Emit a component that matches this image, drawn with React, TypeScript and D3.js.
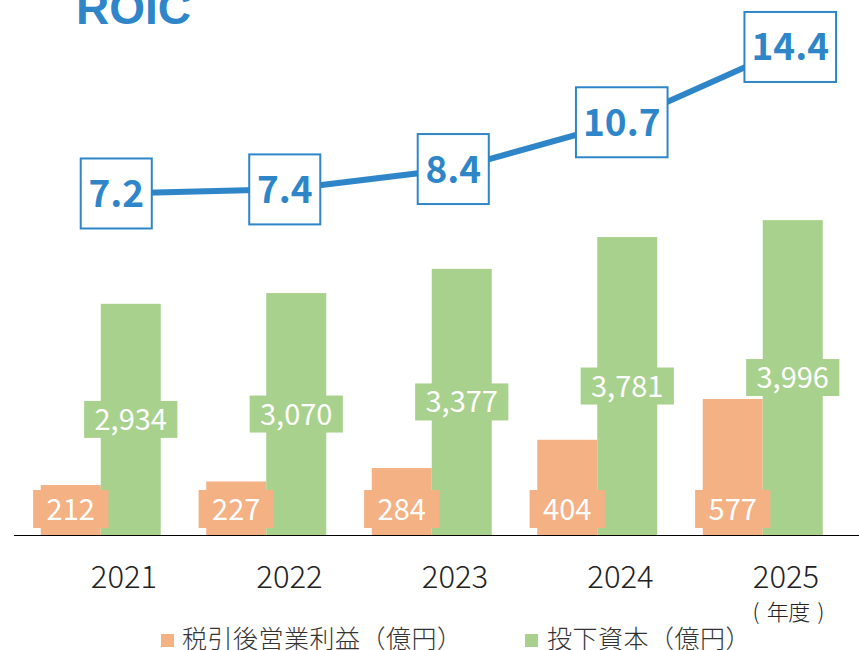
import React from "react";
import * as d3 from "d3";

const years = ["2021", "2022", "2023", "2024", "2025"];
const nopat = [212, 227, 284, 404, 577];
const investedCapital = [2934, 3070, 3377, 3781, 3996];
const roic = [7.2, 7.4, 8.4, 10.7, 14.4];
const legendLabels = ["税引後営業利益（億円）", "投下資本（億円）"];
const unitChars = ["(", "年", "度", ")"];

const W = 859;
const H = 650;
const BASE = 535;
const ORANGE = "#F4B183";
const GREEN = "#A9D18E";
const BLUE = "#2E86C9";
const JP = "'Noto Sans CJK JP', 'Noto Sans', sans-serif";

const fmt = d3.format(",");

function textW(s: string, fs: number) {
  let w = 0;
  for (const c of s) w += c === "," || c === "." ? 0.27 * fs : 0.555 * fs;
  return w;
}

export default function App() {
  const xBar = d3.scaleBand<string>().domain(years).range([18, 18 + 5 * 165.5]);
  const xLine = d3.scaleBand<string>().domain(years).range([32, 32 + 5 * 168.5]);
  const xLab = d3.scaleBand<string>().domain(years).range([41.25, 41.25 + 5 * 165.5]);
  const yGreen = d3.scaleLinear().domain([0, 6000]).range([BASE, BASE - 472.8]);
  const yOrange = d3.scaleLinear().domain([0, 2000]).range([BASE, BASE - 471.4]);
  const yLine = d3.scaleLinear().domain([0, 16]).range([340, 340 - 16 * 20.35]);
  const xUnit = d3.scalePoint<string>().domain(unitChars.map((c, i) => String(i))).range([756, 821]);
  const bw = 60;

  const pts: [number, number][] = years.map((y, i) => [
    (xLine(y) as number) + xLine.bandwidth() / 2,
    yLine(roic[i]),
  ]);
  const lineGen = d3.line();

  return (
    <svg
      width={W}
      height={H}
      style={{ position: "absolute", left: 0, top: 0, background: "#fff" }}
    >
      <text
        x={76}
        y={24}
        fontFamily="'Liberation Sans', Arial, sans-serif"
        fontWeight="bold"
        fontSize={46}
        fill={BLUE}
      >
        ROIC
      </text>

      {years.map((y, i) => {
        const c = (xBar(y) as number) + xBar.bandwidth() / 2;
        const gTop = yGreen(investedCapital[i]);
        const oTop = yOrange(nopat[i]);
        const gs = fmt(investedCapital[i]);
        const os = fmt(nopat[i]);
        const gw = textW(gs, 29) + 21;
        const ow = textW(os, 29) + 27;
        const gMid = (gTop + BASE) / 2;
        const oMid = 509;
        return (
          <g key={y}>
            <rect x={c - bw} y={oTop} width={bw} height={BASE - oTop} fill={ORANGE} />
            <rect x={c} y={gTop} width={bw} height={BASE - gTop} fill={GREEN} />
            <rect x={c + bw / 2 - gw / 2} y={gMid - 18.5} width={gw} height={37} fill={GREEN} />
            <text
              x={c + bw / 2}
              y={gMid + 10.5}
              textAnchor="middle"
              fontFamily={JP}
              fontWeight={400}
              fontSize={29}
              fill="#fff"
            >
              {gs}
            </text>
            <rect x={c - bw / 2 - ow / 2} y={oMid - 19} width={ow} height={38} fill={ORANGE} />
            <text
              x={c - bw / 2}
              y={oMid + 10.5}
              textAnchor="middle"
              fontFamily={JP}
              fontWeight={400}
              fontSize={29}
              fill="#fff"
            >
              {os}
            </text>
          </g>
        );
      })}

      <line x1={14} x2={W} y1={BASE + 0.5} y2={BASE + 0.5} stroke="#000" strokeWidth={1} />

      {years.map((y) => (
        <text
          key={y}
          x={(xLab(y) as number) + xLab.bandwidth() / 2}
          y={588}
          textAnchor="middle"
          fontFamily={JP}
          fontWeight={300}
          fontSize={31}
          fill="#222"
        >
          {y}
        </text>
      ))}
      {unitChars.map((ch, i) => (
        <text
          key={i}
          x={xUnit(String(i)) as number}
          y={620}
          textAnchor="middle"
          fontFamily={JP}
          fontWeight={300}
          fontSize={22}
          fill="#222"
        >
          {ch}
        </text>
      ))}

      <path d={lineGen(pts) || ""} fill="none" stroke={BLUE} strokeWidth={6} />
      {pts.map(([px, py], i) => {
        const s = roic[i].toFixed(1);
        const w = textW(s, 37) + 20;
        return (
          <g key={i}>
            <rect
              x={px - w / 2}
              y={py - 35}
              width={w}
              height={70}
              fill="#fff"
              stroke={BLUE}
              strokeWidth={2}
            />
            <text
              x={px}
              y={py + 13.5}
              textAnchor="middle"
              fontFamily={JP}
              fontWeight="bold"
              fontSize={37}
              fill={BLUE}
            >
              {s}
            </text>
          </g>
        );
      })}

      <rect x={161} y={634} width={13} height={13} fill={ORANGE} />
      <text
        x={182}
        y={648}
        fontFamily={JP}
        fontWeight={300}
        fontSize={25}
        letterSpacing={0.5}
        fill="#333"
      >
        {legendLabels[0]}
      </text>
      <rect x={525} y={634} width={13} height={13} fill={GREEN} />
      <text
        x={547}
        y={648}
        fontFamily={JP}
        fontWeight={300}
        fontSize={25}
        letterSpacing={0.5}
        fill="#333"
      >
        {legendLabels[1]}
      </text>
    </svg>
  );
}
